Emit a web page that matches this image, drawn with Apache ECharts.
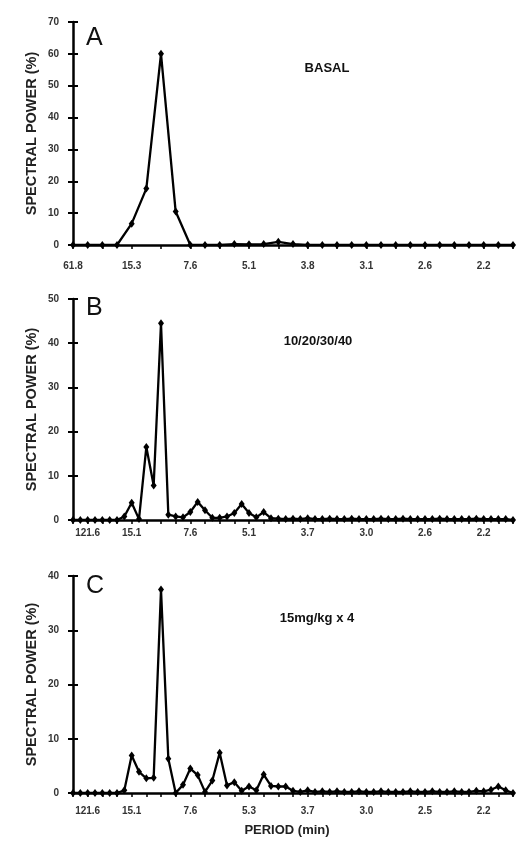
<!DOCTYPE html>
<html><head><meta charset="utf-8">
<script src="https://cdn.jsdelivr.net/npm/echarts@6/dist/echarts.min.js"></script>
<style>html,body{margin:0;padding:0;background:#fff}#c{width:521px;height:842px}</style>
</head><body><div id="c"></div>
<script>
// Panel A: 31 frequency bins
const valuesA = [0,0,0,0,6.7,17.7,60,10.5,0,0,0,0.3,0.2,0.3,1.0,0.3,0,0,0,0,0,0,0,0,0,0,0,0,0,0,0];
const tickIdxA = [0,4,8,12,16,20,24,28];
const tickLabelsA = ['61.8','15.3','7.6','5.1','3.8','3.1','2.6','2.2'];
// Panel B: 61 bins
const valuesB = [0,0,0,0,0,0,0,0.8,3.9,0.2,16.5,7.8,44.5,1.2,0.8,0.6,1.8,4.1,2.2,0.5,0.5,0.8,1.6,3.6,1.6,0.6,1.8,0.4,0.3,0.2,0.3,0.2,0.4,0.2,0.2,0.3,0.2,0.2,0.3,0.2,0.2,0.2,0.3,0.2,0.2,0.3,0.2,0.2,0.2,0.2,0.3,0.2,0.2,0.2,0.2,0.3,0.2,0.2,0.2,0.2,0];
const tickIdxB = [2,8,16,24,32,40,48,56];
const tickLabelsB = ['121.6','15.1','7.6','5.1','3.7','3.0','2.6','2.2'];
// Panel C: 61 bins
const valuesC = [0,0,0,0,0,0,0,0.5,6.9,3.9,2.7,2.8,37.5,6.3,0,1.5,4.5,3.3,0.2,2.3,7.4,1.4,2.0,0.4,1.2,0.5,3.4,1.3,1.2,1.2,0.4,0.2,0.5,0.2,0.3,0.2,0.3,0.2,0.2,0.3,0.2,0.2,0.3,0.2,0.2,0.2,0.3,0.2,0.2,0.3,0.2,0.2,0.3,0.2,0.2,0.4,0.3,0.6,1.2,0.5,0];
const tickLabelsC = ['121.6','15.1','7.6','5.3','3.7','3.0','2.5','2.2'];
const yMax = [70, 50, 40];
const panelLetters = ['A','B','C'];
const panelTitles = ['BASAL','10/20/30/40','15mg/kg x 4'];
const yName = 'SPECTRAL POWER (%)';
const xName = 'PERIOD (min)';

const FONT = 'Liberation Sans, Arial, sans-serif';
const grids = [
  {left:73, right:8, top:22, bottom:597},
  {left:73, right:8, top:299, bottom:322},
  {left:73, right:8, top:576, bottom:49}
];
const sets = [
  {vals: valuesA, idx: tickIdxA, labs: tickLabelsA, margin: 16},
  {vals: valuesB, idx: tickIdxB, labs: tickLabelsB, margin: 8},
  {vals: valuesC, idx: tickIdxB, labs: tickLabelsC, margin: 13}
];
const xAxis = [], yAxis = [], series = [], graphic = [];
sets.forEach((s, g) => {
  const cats = s.vals.map((_, i) => String(i));
  xAxis.push({
    type:'category', gridIndex:g, data:cats, boundaryGap:false,
    axisLine:{lineStyle:{color:'#000', width:2.5}},
    axisTick:{show:true, interval:1, length:4, lineStyle:{color:'#000', width:1.5}},
    axisLabel:{interval:0, margin:s.margin, fontSize:10, fontWeight:'bold', color:'#333', fontFamily:FONT,
      formatter:(v, i) => { const k = s.idx.indexOf(i); return k >= 0 ? s.labs[k] : ''; }},
    splitLine:{show:false},
    name: g === 2 ? xName : '', nameLocation:'middle', nameGap:31, nameMoveOverlap:false,
    nameTextStyle:{fontSize:13, fontWeight:'bold', color:'#222', fontFamily:FONT, padding:[0,0,0,-12]}
  });
  yAxis.push({
    type:'value', gridIndex:g, min:0, max:yMax[g], interval:10,
    axisLine:{show:true, lineStyle:{color:'#000', width:2.5}},
    axisTick:{show:true, length:5, lineStyle:{color:'#000', width:2}},
    axisLabel:{fontSize:10, fontWeight:'bold', color:'#333', margin:14, fontFamily:FONT},
    splitLine:{show:false},
    name: yName, nameLocation:'middle', nameGap:34, nameMoveOverlap:false,
    nameTextStyle:{fontSize:14.5, fontWeight:'bold', color:'#222', fontFamily:FONT}
  });
  yAxis.push({
    type:'value', gridIndex:g, min:0, max:yMax[g], interval:10, position:'left',
    axisLine:{show:false},
    axisTick:{show:true, inside:true, length:5, lineStyle:{color:'#000', width:2}},
    axisLabel:{show:false}, splitLine:{show:false}
  });
  series.push({
    type:'line', xAxisIndex:g, yAxisIndex:2*g, data:s.vals,
    symbol:'diamond', symbolSize:[6,8], showSymbol:true,
    lineStyle:{color:'#000', width:2.3},
    itemStyle:{color:'#000'}, animation:false
  });
});
const letterTops = [26, 296, 574];
const titleTops = [62, 335, 612];
const titleCx = [327, 318, 317];
for (let g = 0; g < 3; g++) {
  graphic.push({type:'text', left:86, top:letterTops[g],
    style:{text:panelLetters[g], font:'normal 25px ' + FONT, fill:'#111'}});
  graphic.push({type:'text', x:titleCx[g], y:titleTops[g],
    style:{text:panelTitles[g], font:'bold 13px ' + FONT, fill:'#111', textAlign:'center'}});
}
const chart = echarts.init(document.getElementById('c'), null, {renderer:'canvas'});
chart.setOption({
  backgroundColor:'#fff', animation:false,
  grid: grids, xAxis, yAxis, series, graphic
});
</script>
</body></html>
